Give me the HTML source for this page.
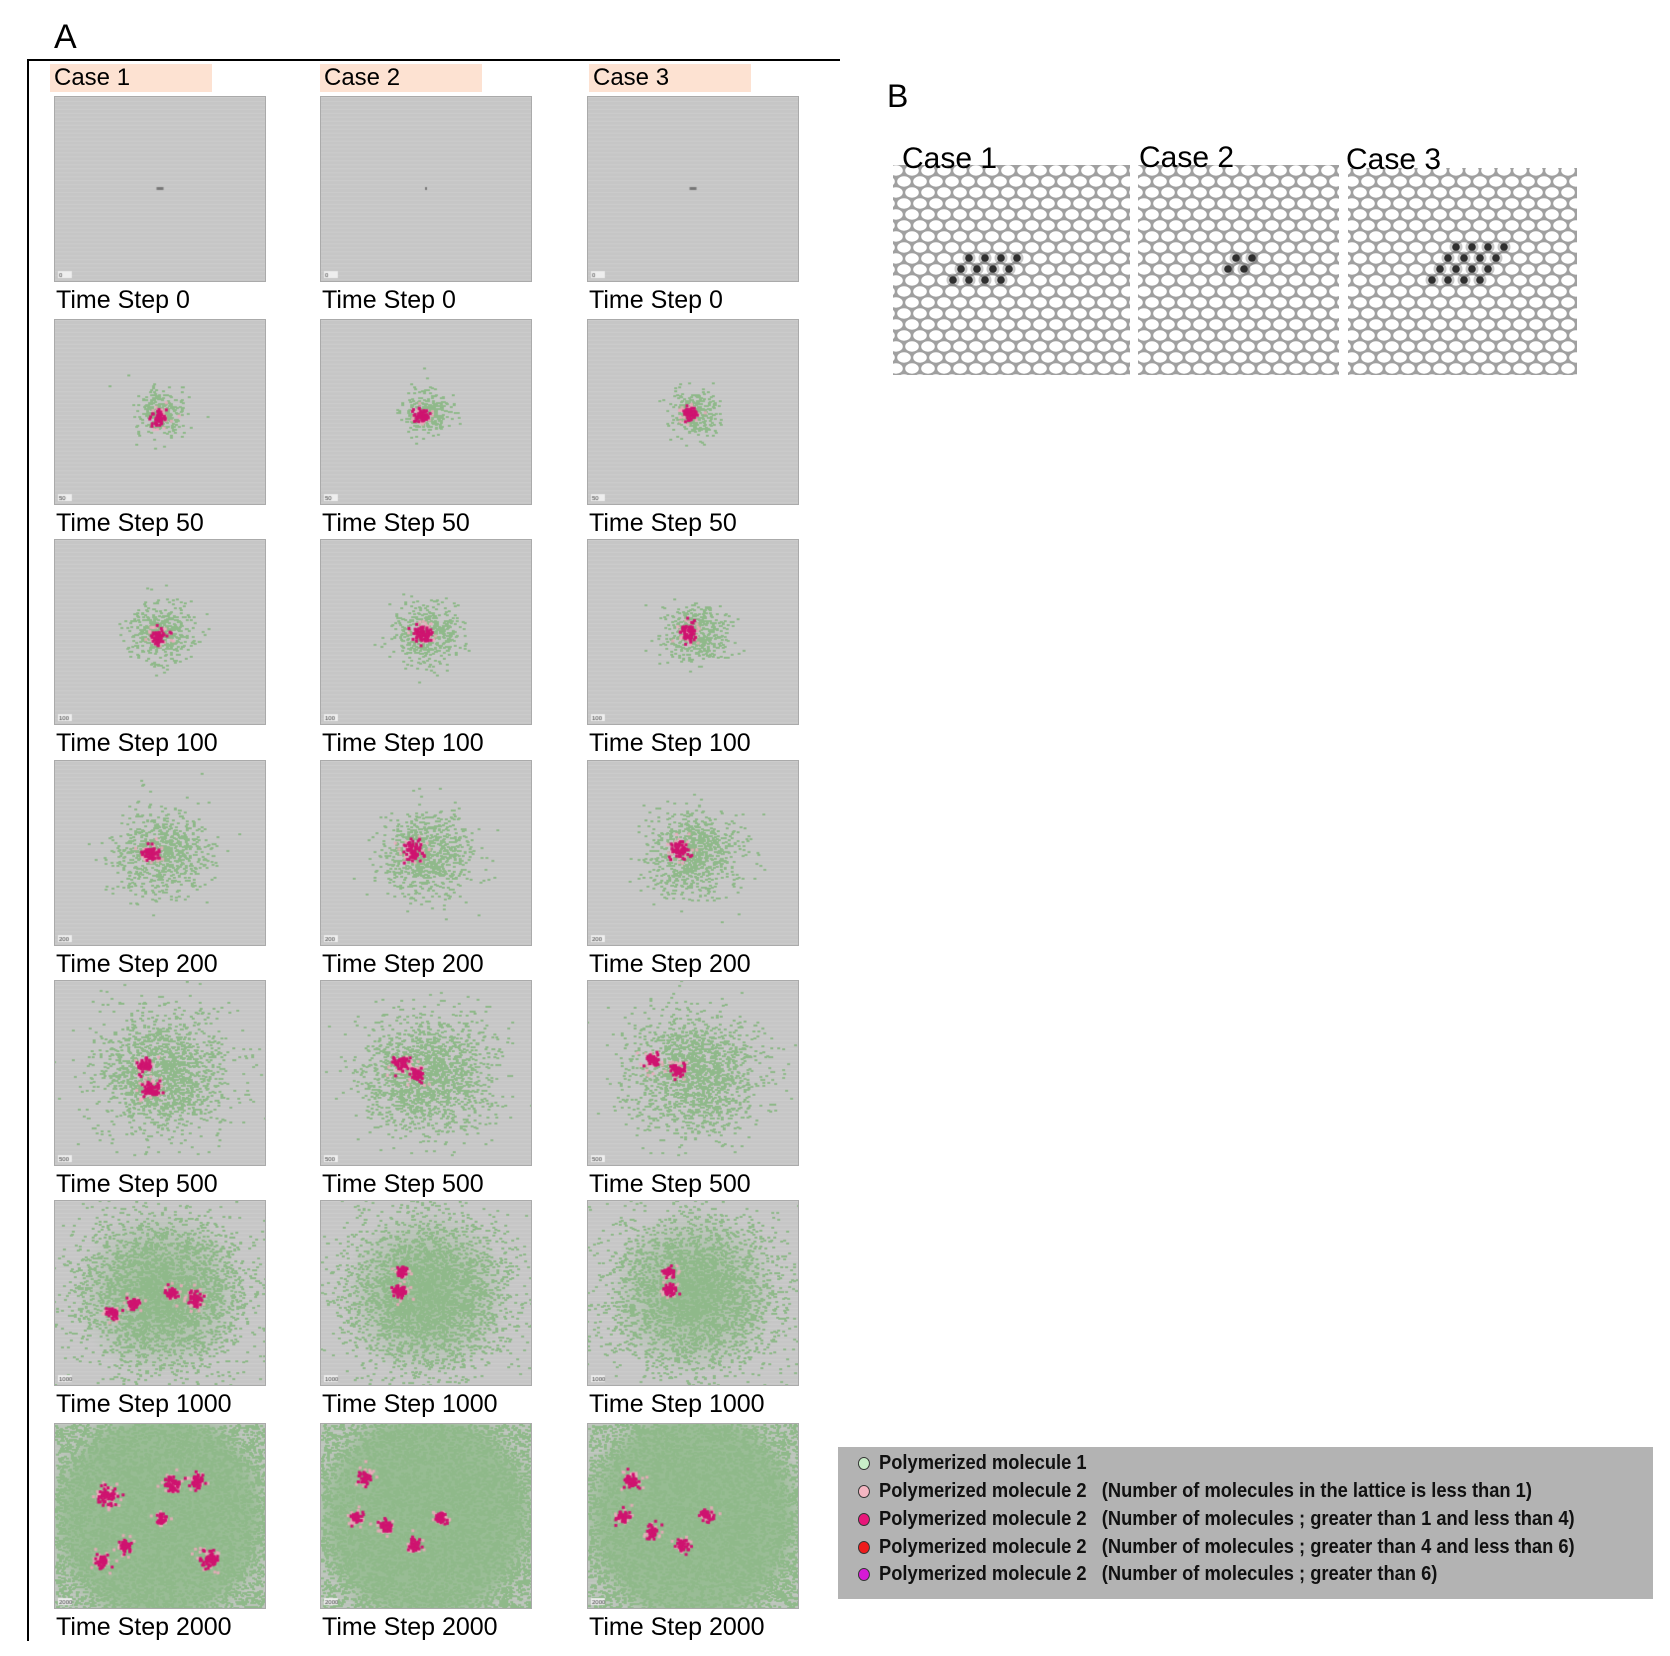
<!DOCTYPE html>
<html><head><meta charset="utf-8"><style>
body{margin:0;width:1670px;height:1656px;background:#fff;position:relative;overflow:hidden;font-family:"Liberation Sans",sans-serif;}
.a{position:absolute}
canvas{position:absolute;border:1px solid #aaa;box-sizing:border-box}
.ts{position:absolute;font-size:25px;color:#000;white-space:nowrap}
.case{position:absolute;background:#fde2d2;font-size:24px;height:28px;line-height:28px;width:162px;padding-left:4px;box-sizing:border-box}
.leg{position:absolute;left:858px;font-size:20px;font-weight:bold;color:#111;white-space:nowrap;transform:scaleX(0.915);transform-origin:left center}
.dot{display:inline-block;width:11px;height:11px;border-radius:50%;border:1px solid #333;margin-right:10px;vertical-align:middle}
</style></head><body>
<div class="a" style="left:54px;top:18px;font-size:34px">A</div>
<div class="a" style="left:27px;top:59px;width:813px;height:2px;background:#000"></div>
<div class="a" style="left:27px;top:59px;width:2px;height:1582px;background:#000"></div>
<div class="case" style="left:50px;top:64px">Case 1</div>
<div class="case" style="left:320px;top:64px">Case 2</div>
<div class="case" style="left:589px;top:64px">Case 3</div>
<div id="A"></div>
<div class="a" style="left:887px;top:78px;font-size:32px">B</div>
<svg class="a" style="left:0;top:0" width="1670" height="420">
<defs><pattern id="hx" width="16" height="22" patternUnits="userSpaceOnUse">
<rect width="16" height="22" fill="#a0a0a0"/>
<ellipse cx="8" cy="5.5" rx="6.8" ry="5.2" fill="#fff"/>
<ellipse cx="0" cy="16.5" rx="6.8" ry="5.2" fill="#fff"/>
<ellipse cx="16" cy="16.5" rx="6.8" ry="5.2" fill="#fff"/>
</pattern></defs>
<rect x="893" y="165" width="237" height="210" fill="url(#hx)"/>
<rect x="1138" y="165" width="201" height="210" fill="url(#hx)"/>
<rect x="1348" y="168" width="229" height="207" fill="url(#hx)"/>
<g id="dots" fill="#111"></g>
<text x="902" y="168" font-family="Liberation Sans" font-size="30">Case 1</text>
<text x="1139" y="167" font-family="Liberation Sans" font-size="30">Case 2</text>
<text x="1346" y="169" font-family="Liberation Sans" font-size="30">Case 3</text>
</svg>
<div class="a" style="left:838px;top:1447px;width:815px;height:152px;background:#b3b3b3"></div>
<div class="leg" style="top:1452px"><span class="dot" style="background:#c8eec8"></span>Polymerized molecule 1</div>
<div class="leg" style="top:1480px"><span class="dot" style="background:#f4b6c2"></span>Polymerized molecule 2 &nbsp;&nbsp;(Number of molecules in the lattice is less than 1)</div>
<div class="leg" style="top:1508px"><span class="dot" style="background:#e8177a"></span>Polymerized molecule 2 &nbsp;&nbsp;(Number of molecules ; greater than 1 and less than 4)</div>
<div class="leg" style="top:1536px"><span class="dot" style="background:#ee1c1c"></span>Polymerized molecule 2 &nbsp;&nbsp;(Number of molecules ; greater than 4 and less than 6)</div>
<div class="leg" style="top:1563px"><span class="dot" style="background:#d61ad6"></span>Polymerized molecule 2 &nbsp;&nbsp;(Number of molecules ; greater than 6)</div>
<script>
var g=document.getElementById('dots'),h='';
function hd(x0,y0,cells){cells.forEach(function(c){h+='<circle cx="'+(x0+c[0])+'" cy="'+(y0+c[1])+'" r="3.8"/>';h+='<circle cx="'+(x0+c[0])+'" cy="'+(y0+c[1])+'" r="6.5" fill="#666" opacity="0.35"/>';});}
hd(953,258,[[16,0],[32,0],[48,0],[64,0],[8,11],[24,11],[40,11],[56,11],[0,22],[16,22],[32,22],[48,22]]);
hd(1228,258,[[8,0],[24,0],[0,11],[16,11]]);
hd(1432,247,[[24,0],[40,0],[56,0],[72,0],[16,11],[32,11],[48,11],[64,11],[8,22],[24,22],[40,22],[56,22],[0,33],[16,33],[32,33],[48,33]]);
g.innerHTML=h;
var cols=[54,320,587],rows=[96,319,539,760,980,1200,1423];
var labels=['0','50','100','200','500','1000','2000'];
var spread=[0,22,30,42,60,80,140],n=[0,300,450,800,1600,3200,6000];
var clusters=[
 [[[0.5,0.5,3]],[[0.5,0.5,3]],[[0.5,0.5,3]]],
 [[[0.49,0.52,9]],[[0.47,0.51,8]],[[0.48,0.5,8]]],
 [[[0.49,0.52,9]],[[0.47,0.5,10]],[[0.47,0.49,10]]],
 [[[0.45,0.5,9]],[[0.43,0.48,10]],[[0.43,0.47,10]]],
 [[[0.42,0.45,8],[0.45,0.58,9]],[[0.38,0.44,9],[0.45,0.5,8]],[[0.3,0.42,8],[0.42,0.48,8]]],
 [[[0.27,0.6,7],[0.37,0.55,6],[0.55,0.49,6],[0.66,0.52,8]],[[0.38,0.38,6],[0.37,0.48,7]],[[0.38,0.38,6],[0.38,0.48,7]]],
 [[[0.24,0.38,10],[0.55,0.32,8],[0.67,0.3,8],[0.5,0.51,6],[0.33,0.66,7],[0.22,0.74,7],[0.73,0.73,10]],
  [[0.2,0.28,7],[0.16,0.5,7],[0.3,0.55,7],[0.56,0.5,7],[0.44,0.65,7]],
  [[0.2,0.3,8],[0.16,0.5,7],[0.3,0.58,7],[0.56,0.49,7],[0.44,0.65,7]]]
];
var seed=7;function rnd(){seed=(seed*16807)%2147483647;return seed/2147483647;}
function gauss(){return Math.sqrt(-2*Math.log(rnd()+1e-9))*Math.cos(6.283*rnd());}
var A=document.getElementById('A'),html='';
rows.forEach(function(y,r){cols.forEach(function(x,c){
 html+='<canvas id="c'+r+'_'+c+'" width="212" height="186" style="left:'+x+'px;top:'+y+'px;width:212px;height:186px"></canvas>';
 html+='<div class="ts" style="left:'+(x+2)+'px;top:'+(y+190)+'px">Time Step '+labels[r]+'</div>';
});});
A.innerHTML=html;
rows.forEach(function(y,r){cols.forEach(function(x,c){
 var cv=document.getElementById('c'+r+'_'+c),ctx=cv.getContext('2d'),W=212,H=186;
 ctx.fillStyle='#c6c6c6';ctx.fillRect(0,0,W,H);
 ctx.fillStyle='rgba(255,255,255,0.12)';for(var yy=0;yy<H;yy+=4)ctx.fillRect(0,yy,W,1);
 var cx=W*0.5,cy=H*0.5;
 if(r==6){var gr=ctx.createRadialGradient(cx,cy,40,cx,cy,115);gr.addColorStop(0,'rgba(150,188,146,1)');gr.addColorStop(0.7,'rgba(150,188,146,0.9)');gr.addColorStop(1,'rgba(150,188,146,0.2)');ctx.fillStyle=gr;ctx.fillRect(0,0,W,H);}
 if(r==5){var gr=ctx.createRadialGradient(cx,cy,10,cx,cy,85);gr.addColorStop(0,'rgba(150,188,146,0.85)');gr.addColorStop(1,'rgba(150,188,146,0)');ctx.fillStyle=gr;ctx.fillRect(0,0,W,H);}
 ctx.fillStyle='#8fb98a';
 for(var i=0;i<n[r];i++){var px=cx+gauss()*spread[r]*0.55,py=cy+gauss()*spread[r]*0.5;
  if(r==6){px=rnd()*W;py=rnd()*H;}
  ctx.fillRect(Math.round(px),Math.round(py),3,2);}
 if(r==0){ctx.fillStyle='#777';var s=[7,2,7][c];ctx.fillRect(cx-s/2,cy-2,s,3);}
 else{clusters[r][c].forEach(function(k){var kx=k[0]*W,ky=k[1]*H,kr=k[2];
  ctx.fillStyle='rgba(240,170,190,0.8)';for(var j=0;j<kr*3;j++)ctx.fillRect(kx+gauss()*kr*0.7,ky+gauss()*kr*0.7,3,3);
  ctx.fillStyle='#cf1470';for(var j=0;j<kr*6;j++)ctx.fillRect(kx+gauss()*kr*0.45,ky+gauss()*kr*0.45,3,3);});}
 ctx.fillStyle='#eee';ctx.fillRect(3,H-10,14,7);ctx.fillStyle='#333';ctx.font='6px Liberation Sans';ctx.fillText(labels[r],4,H-4);
});});
</script>
</body></html>
